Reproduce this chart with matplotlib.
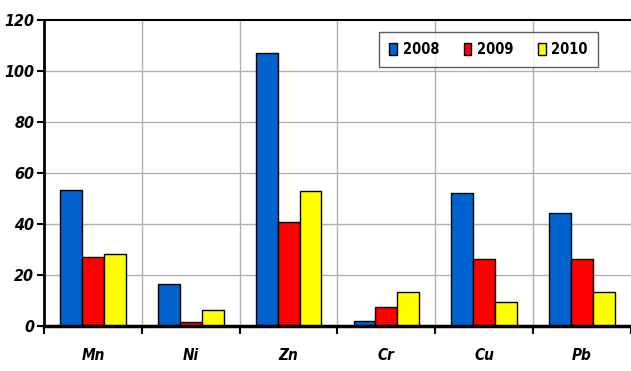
import numpy as np
import matplotlib.pyplot as plt

plt.rcParams.update({'font.family': 'DejaVu Sans', 'font.stretch': 'condensed'})

elements = ['Mn', 'Ni', 'Zn', 'Cr', 'Cu', 'Pb']
years = ['2008', '2009', '2010']
v2008 = [53.5, 16.5, 107.0, 2.0, 52.3, 44.3]
v2009 = [27.0, 1.8, 41.0, 7.4, 26.5, 26.5]
v2010 = [28.3, 6.3, 53.0, 13.3, 9.3, 13.3]
colors = ['#0062cc', '#ff0000', '#ffff00']

fig = plt.figure(figsize=(6.31, 3.71), dpi=100)
ax = fig.add_axes([0.0697, 0.121, 0.9303, 0.825])

x = np.arange(len(elements))
w = 0.224
for i, (vals, col, lab) in enumerate(zip([v2008, v2009, v2010], colors, years)):
    ax.bar(x + (i - 1) * w, vals, width=w, color=col, edgecolor='black',
           linewidth=1.0, label=lab, zorder=3)

ax.set_xlim(-0.5, 5.5)
ax.set_ylim(0, 120)
ax.set_yticks(np.arange(0, 121, 20))

# grid: horizontal at y ticks, vertical at category boundaries
for yv in range(20, 120, 20):
    ax.axhline(yv, color='#b0b0b0', lw=1.0, zorder=1)
for xb in np.arange(0.5, 5.5, 1):
    ax.axvline(xb, color='#b0b0b0', lw=1.0, zorder=1)

ax.set_xticks(np.arange(-0.5, 5.6, 1))
ax.set_xticklabels([])
ax.set_xticks(x, minor=True)
ax.set_xticklabels(elements, minor=True, fontsize=11, fontweight='bold',
                   fontstyle='italic')
ax.tick_params(axis='x', which='minor', length=0, pad=16)
ax.tick_params(axis='x', which='major', length=6, width=1.5, direction='out')
ax.tick_params(axis='y', length=5, width=1.5, direction='out', pad=2)
for t in ax.get_yticklabels():
    t.set_fontsize(11.5)
    t.set_fontweight('bold')
    t.set_fontstyle('italic')

ax.spines['right'].set_visible(False)
ax.spines['left'].set_linewidth(2)
ax.spines['bottom'].set_linewidth(2.5)
ax.spines['top'].set_linewidth(1.5)
for s in ax.spines.values():
    s.set_zorder(4)

leg = ax.legend(loc='upper right', bbox_to_anchor=(0.944, 0.961), ncol=3,
                frameon=True, fancybox=False, edgecolor='#333333',
                handlelength=0.5, handleheight=0.9, handletextpad=0.4,
                columnspacing=1.7, borderpad=0.7, borderaxespad=0,
                prop={'weight': 'bold', 'size': 10.5, 'stretch': 'condensed'})
leg.get_frame().set_linewidth(1.0)

fig.savefig('out.png', dpi=100, facecolor='white')
